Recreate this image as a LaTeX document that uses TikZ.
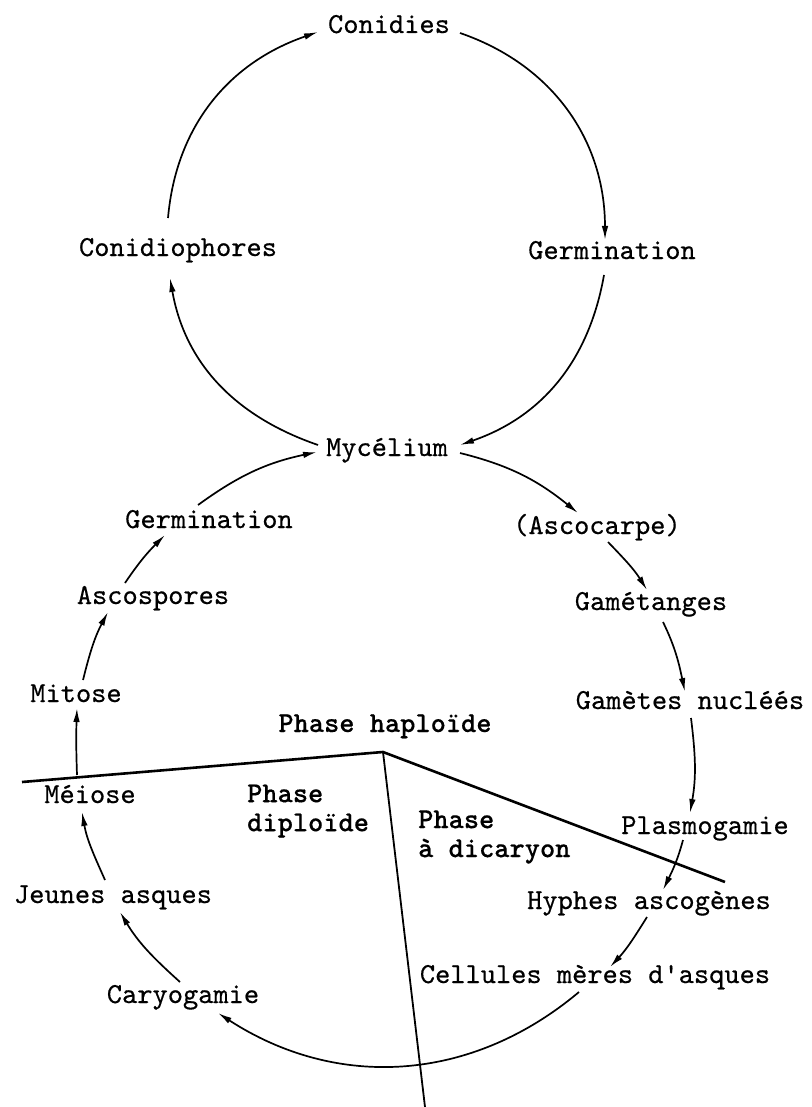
\documentclass[tikz,border=0pt]{standalone}
\usepackage{fontspec}
\setmonofont{lmmono10-regular.otf}[FakeBold=0.5, BoldFont=lmmonolt10-bold.otf, BoldFeatures={FakeBold=0.3}]
\usetikzlibrary{arrows.meta}
\tikzset{
  lbl/.style={font=\fontsize{29}{30}\selectfont\ttfamily, inner sep=2pt,
    text height=17pt, text depth=5pt},
  phs/.style={font=\fontsize{29}{29}\selectfont\ttfamily\bfseries, align=left,
    inner sep=0pt, anchor=west},
  cyc/.style={-{Latex[length=14pt,width=6.5pt]}, line width=1.7pt},
  sep/.style={line width=2.6pt}
}
\begin{document}
\begin{tikzpicture}[x=1pt,y=1pt]
  \useasboundingbox (0,0) rectangle (811,-1107);
  % stations of the cycle
  \node[lbl] (con) at (389,-27) {Conidies};
  \node[lbl] (cph) at (178,-250) {Conidiophores};
  \node[lbl] (gert) at (612,-253) {Germination};
  \node[lbl] (myc) at (387,-450) {Mycélium};
  \node[lbl] (gerl) at (209,-522) {Germination};
  \node[lbl] (asc) at (597,-528) {(Ascocarpe)};
  \node[lbl] (asp) at (153,-598) {Ascospores};
  \node[lbl] (gam) at (651,-604) {Gamétanges};
  \node[lbl] (mit) at (76,-696) {Mitose};
  \node[lbl] (gnu) at (690,-703) {Gamètes nucléés};
  \node[lbl, font=\fontsize{29}{30}\selectfont\ttfamily\bfseries] (hap) at (385,-726) {Phase haploïde};
  \node[lbl] (mei) at (90,-797) {Méiose};
  \node[phs] (dip) at (247,-811) {Phase\\diploïde};
  \node[phs] (dic) at (418,-837) {Phase\\à dicaryon};
  \node[lbl] (pla) at (705,-828) {Plasmogamie};
  \node[lbl] (jas) at (113,-897) {Jeunes asques};
  \node[lbl] (hyp) at (649,-903) {Hyphes ascogènes};
  \node[lbl] (cel) at (595,-977) {Cellules mères d\textquotesingle asques};
  \node[lbl] (car) at (183,-997) {Caryogamie};
  % phase boundaries
  \coordinate (vtx) at (383,-752);
  \coordinate (lft) at (22,-782);
  \coordinate (rgt) at (725,-882);
  \coordinate (bot) at (425,-1107);
  \draw[sep] (lft) -- (vtx) -- (rgt);
  \draw[line width=1.8pt] (vtx) -- (bot);
  % asexual cycle
  \draw[cyc] ([xshift=-10pt,yshift=32pt]cph.center) to[out=85,in=199] ([xshift=-71pt,yshift=-5pt]con.center);
  \draw[cyc] ([xshift=71pt,yshift=-6pt]con.center) to[out=-19,in=90] ([xshift=-7pt,yshift=13pt]gert.center);
  \draw[cyc] ([xshift=-8pt,yshift=-22pt]gert.center) to[out=-100,in=19] ([xshift=73pt,yshift=5pt]myc.center);
  \draw[cyc] ([xshift=-69pt,yshift=5pt]myc.center) to[out=161,in=-80] ([xshift=-8pt,yshift=-28pt]cph.center);
  % sexual cycle
  \draw[cyc] ([xshift=73pt,yshift=-3pt]myc.center) to[out=-14,in=141] ([xshift=-19pt,yshift=15pt]asc.center);
  \draw[cyc] ([xshift=11pt,yshift=-14pt]asc.center) to[out=-46,in=122] ([xshift=-4pt,yshift=14pt]gam.center);
  \draw[cyc] ([xshift=12pt,yshift=-18pt]gam.center) to[out=-64,in=102] ([xshift=-5pt,yshift=11pt]gnu.center);
  \draw[cyc] ([xshift=1pt,yshift=-15pt]gnu.center) to[out=-83,in=80] ([xshift=-15pt,yshift=15pt]pla.center);
  \draw[cyc] ([xshift=-22pt,yshift=-12pt]pla.center) to[out=-105,in=64] ([xshift=14pt,yshift=13pt]hyp.center);
  \draw[cyc] ([xshift=-2pt,yshift=-14pt]hyp.center) to[out=-122,in=47] ([xshift=15pt,yshift=10pt]cel.center);
  \draw[cyc] ([xshift=-16pt,yshift=-15pt]cel.center) to[out=-140,in=-33] ([xshift=35pt,yshift=-16pt]car.center);
  \draw[cyc] ([xshift=-3pt,yshift=15pt]car.center) to[out=138,in=-59] ([xshift=7pt,yshift=-15pt]jas.center);
  \draw[cyc] ([xshift=-8pt,yshift=17pt]jas.center) to[out=114,in=-80] ([xshift=-8pt,yshift=-15pt]mei.center);
  \draw[cyc] ([xshift=-13pt,yshift=22pt]mei.center) to[out=92,in=-92] ([xshift=1pt,yshift=-12pt]mit.center);
  \draw[cyc] ([xshift=7pt,yshift=16pt]mit.center) to[out=76,in=-118] ([xshift=-45pt,yshift=-14pt]asp.center);
  \draw[cyc] ([xshift=-28pt,yshift=15pt]asp.center) to[out=56,in=225] ([xshift=-44pt,yshift=-13pt]gerl.center);
  \draw[cyc] ([xshift=-11pt,yshift=17pt]gerl.center) to[out=36,in=192] ([xshift=-70pt,yshift=-2pt]myc.center);
\end{tikzpicture}
\end{document}
